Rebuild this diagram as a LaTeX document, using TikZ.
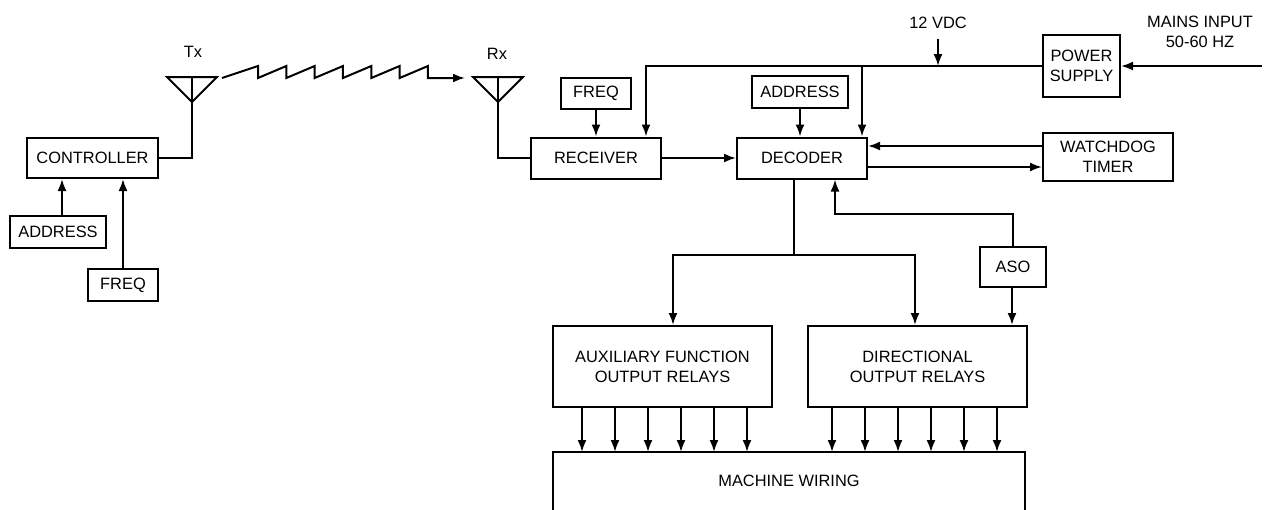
\documentclass[tikz,border=0pt]{standalone}
\usepackage{fontspec}
\setmainfont{Liberation Sans}
\usepackage{tikz}
\usetikzlibrary{arrows.meta}

\begin{document}
\begin{tikzpicture}[x=1pt,y=-1pt,line width=2pt,
		>={Latex[length=12pt,width=9pt]},
		every node/.style={font=\fontsize{16.4}{20}\selectfont},
		blk/.style={draw,align=center,inner sep=0pt}]
			\useasboundingbox (0,0) rectangle (1269,509);
			
			% transmitter side
			\node[blk,minimum width=131pt,minimum height=40pt] (ctrl) at (92.5,158) {CONTROLLER};
			\node[blk,minimum width=96pt,minimum height=32pt] (addr1) at (58,232) {ADDRESS};
			\node[blk,minimum width=70pt,minimum height=32pt] (freq1) at (123,285) {FREQ};
			\node (tx) at (193,52) {Tx};
			\coordinate (txa) at (192,77);
			
			% receiver side
			\node (rxl) at (497,54) {Rx};
			\coordinate (rxa) at (498,77);
			\node[blk,minimum width=130pt,minimum height=41pt] (recv) at (596,158) {RECEIVER};
			\node[blk,minimum width=70pt,minimum height=31pt] (freq2) at (596,93.5) {FREQ};
			\node[blk,minimum width=130pt,minimum height=41pt] (dec) at (802,158) {DECODER};
			\node[blk,minimum width=96pt,minimum height=32pt] (addr2) at (800,92) {ADDRESS};
			\node[blk,minimum width=77pt,minimum height=62pt] (psu) at (1081.5,66) {POWER\\SUPPLY};
			\node (vdc) at (938,23) {12 VDC};
			\node[align=center] (mains) at (1200,32) {MAINS INPUT\\50-60 HZ};
			\coordinate (mainsin) at (1262,66);
			\node[blk,minimum width=130pt,minimum height=48pt] (wdt) at (1108,157) {WATCHDOG\\TIMER};
			\node[blk,minimum width=66pt,minimum height=40pt] (aso) at (1013,267) {ASO};
			\node[blk,minimum width=219pt,minimum height=81pt] (aux) at (662.5,366.5) {AUXILIARY FUNCTION\\OUTPUT RELAYS};
			\node[blk,minimum width=219pt,minimum height=81pt] (dirr) at (917.5,366.5) {DIRECTIONAL\\OUTPUT RELAYS};
			\node[minimum width=470pt,minimum height=56pt,inner sep=0pt] (mw) at (789,481) {MACHINE WIRING};
			
			% antennas
			\draw ([xshift=-25pt]txa) -- ([xshift=25pt]txa) -- ([yshift=-25pt]txa) -- cycle;
			\draw ([xshift=-25pt]rxa) -- ([xshift=25pt]rxa) -- ([yshift=-25pt]rxa) -- cycle;
			\draw (ctrl.east) -| (txa);
			\draw (rxa) |- (recv.west);
			
			% radio link
			\coordinate (wave) at (222,78);
			\coordinate (waveend) at (465,78);
			\draw[->] (wave) -- ++(36,-12) \foreach \i in {1,...,6} { -- ++(0,12) -- ++(28.33,-12) } -- ++(0,12) -- (waveend);
			
			\draw[->] ([xshift=4pt]addr1.north) -- ([xshift=4pt]addr1.north |- ctrl.south);
			\draw[->] (freq1.north) -- (freq1.north |- ctrl.south);
			\draw[->] (freq2.south) -- (recv.north);
			\draw[->] (recv.east) -- (dec.west);
			\draw[->] (addr2.south) -- (addr2.south |- dec.north);
			
			% power
			\draw[->] (psu.west) -| ([xshift=50pt]recv.north);
			\coordinate (tap) at (862,66);
			\draw[->] (tap) -- (tap |- dec.north);
			\draw[->] ([yshift=-6pt]vdc.south) -- (vdc.south |- psu.west);
			\draw[->] (mainsin) -- (psu.east);
			
			% watchdog
			\draw[->] ([yshift=11pt]wdt.west) -- ([yshift=11pt]wdt.west -| dec.east);
			\draw[->] ([yshift=-10pt]wdt.west -| dec.east) -- ([yshift=-10pt]wdt.west);
			
			% outputs
			\coordinate (split) at (794,255);
			\draw ([xshift=-8pt]dec.south) -- (split);
			\draw[->] (split) -| ([xshift=10.5pt]aux.north);
			\draw[->] (split) -| ([xshift=-2.5pt]dirr.north);
			\coordinate (asoup) at (835,214);
			\draw[->] (aso.north) |- (asoup) -- (asoup |- dec.south);
			\draw[->] ([xshift=-1pt]aso.south) -- ([xshift=-1pt]aso.south |- dirr.north);
			
			\foreach \i in {0,...,5} {
				\draw[->] ([xshift=30pt+33pt*\i]aux.south west) -- ([xshift=30pt+33pt*\i]aux.south west |- mw.north);
				\draw[->] ([xshift=25pt+33pt*\i]dirr.south west) -- ([xshift=25pt+33pt*\i]dirr.south west |- mw.north);
			}
			\draw (mw.south west) -- (mw.north west) -- (mw.north east) -- (mw.south east);
		\end{tikzpicture}
\end{document}
